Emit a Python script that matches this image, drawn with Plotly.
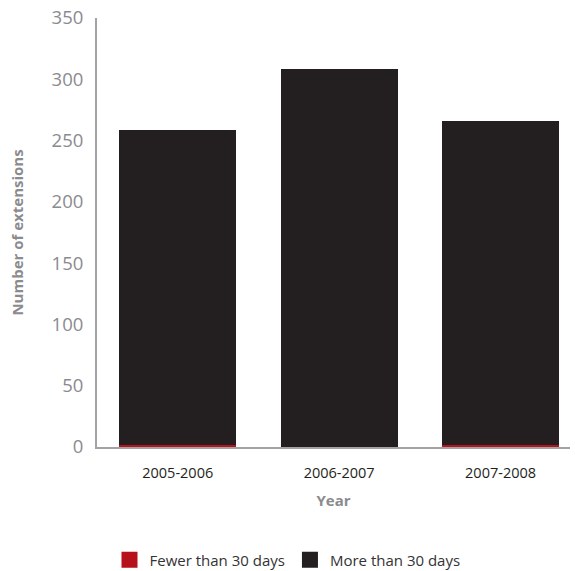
import plotly.graph_objects as go

years = ["2005-2006", "2006-2007", "2007-2008"]
fewer_than_30 = [2, 0, 2]
more_than_30 = [257, 308, 264]
y_ticks = [0, 50, 100, 150, 200, 250, 300, 350]

RED = "#b5121b"
BLACK = "#231f20"
GREY = "#8b8b8e"
FONT = "Open Sans"

fig = go.Figure()
fig.add_trace(go.Bar(x=years, y=fewer_than_30, name="Fewer than 30 days",
                     marker=dict(color=RED, line=dict(width=0)), showlegend=False))
fig.add_trace(go.Bar(x=years, y=more_than_30, name="More than 30 days",
                     marker=dict(color=BLACK, line=dict(width=0)), showlegend=False))

# legend entries with large square swatches
for name, col in [("Fewer than 30 days", RED), ("More than 30 days", BLACK)]:
    fig.add_trace(go.Scatter(x=[None], y=[None], mode="markers", name=name,
                             marker=dict(symbol="square", size=20, color=col)))

fig.update_layout(
    width=575, height=571,
    margin=dict(l=97, r=5, t=18, b=123.5),
    barmode="stack", bargap=0.276,
    plot_bgcolor="white", paper_bgcolor="white",
    font=dict(family=FONT),
    xaxis=dict(
        range=[-0.5, 2.43], showgrid=False, zeroline=False,
        showline=True, linecolor="#a3a3a6", linewidth=2, ticks="",
        ticklabelstandoff=12,
        tickfont=dict(size=14.5, color=BLACK),
        title=dict(text="<b>Year</b>", font=dict(size=15, color=GREY), standoff=14),
    ),
    yaxis=dict(
        range=[0, 350], tickvals=y_ticks, showgrid=False, zeroline=False,
        showline=True, linecolor="#a3a3a6", linewidth=2, ticks="",
        ticklabelstandoff=8,
        tickfont=dict(size=18.5, color=GREY),
        title=dict(text="<b>Number of extensions</b>", font=dict(size=15, color=GREY), standoff=24),
    ),
    legend=dict(
        orientation="h", xref="container", yref="container",
        x=0.5, xanchor="center", y=0.048, yanchor="top",
        traceorder="normal",
        font=dict(size=15, color="#333333"),
        itemwidth=30, tracegroupgap=0,
    ),
)

fig.write_html("out.html")
